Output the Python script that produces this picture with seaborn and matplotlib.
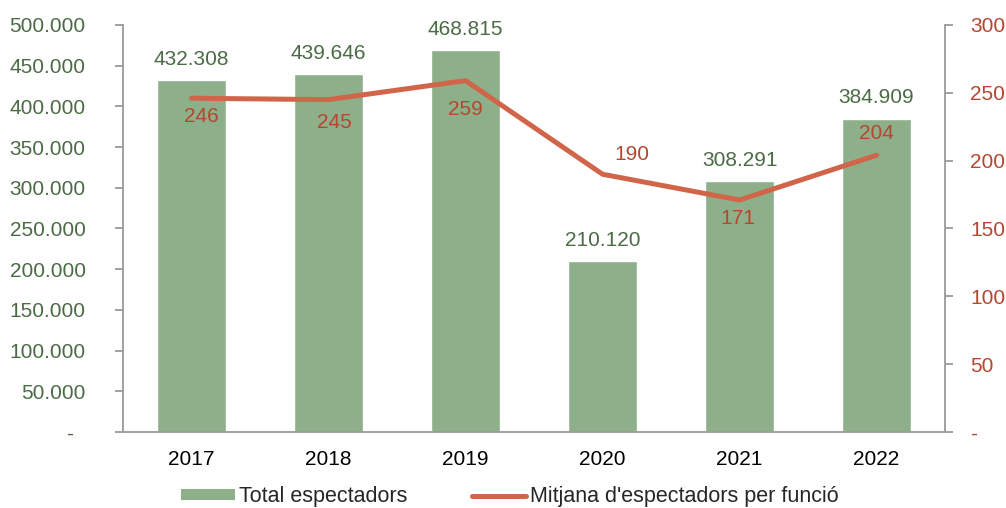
import matplotlib
matplotlib.use("Agg")
import matplotlib.pyplot as plt
import seaborn as sns
import pandas as pd
from matplotlib.patches import Patch
from matplotlib.lines import Line2D

# ─── Data ─────────────────────────────────────────────────────────────────────
years = ["2017", "2018", "2019", "2020", "2021", "2022"]
total_espectadors = [432308, 439646, 468815, 210120, 308291, 384909]
mitjana_funcio = [246, 245, 259, 190, 171, 204]

# label placement for the average labels (offset of label centre, in points)
avg_label_offsets = [(7, -13), (4, -16.5), (0, -21), (21, 14), (-1, -13), (0, 16)]

BAR_COLOR = "#8db08a"
LINE_COLOR = "#d0654a"
GREEN_TXT = "#4b6b45"
RED_TXT = "#b5462f"
SPINE = "#9a9a9a"
FS = 15

sns.set_theme(style="white")
plt.rcParams["font.family"] = ["Liberation Sans", "DejaVu Sans"]

df = pd.DataFrame({"year": years, "total": total_espectadors, "avg": mitjana_funcio})


def dot_thousands(v):
    return f"{int(v):,}".replace(",", ".")


fig = plt.figure(figsize=(10.06, 5.08), dpi=100)
ax = fig.add_axes([0.1223, 0.1496, 0.8171, 0.8012])

sns.barplot(data=df, x="year", y="total", color=BAR_COLOR, width=0.51,
            saturation=1, ax=ax)
ax.set_xlim(-0.5, len(years) - 0.5)
ax.set_ylim(0, 500000)
ax.set_yticks(range(0, 500001, 50000))
ax.set_yticklabels(["-\u2007"] + [dot_thousands(v) for v in range(50000, 500001, 50000)])
ax.set_xlabel("")
ax.set_ylabel("")

for i, v in enumerate(total_espectadors):
    ax.annotate(dot_thousands(v), (i, v), xytext=(0, 15), textcoords="offset points",
                ha="center", va="center", color=GREEN_TXT, fontsize=FS)

# secondary axis: average per show
ax2 = ax.twinx()
sns.lineplot(data=df, x="year", y="avg", color=LINE_COLOR, linewidth=3.6,
             ax=ax2, legend=False)
ax2.set_ylim(0, 300)
ax2.set_yticks(range(0, 301, 50))
ax2.set_yticklabels(["-"] + [str(v) for v in range(50, 301, 50)])
ax2.set_ylabel("")
ax2.set_xlim(-0.5, len(years) - 0.5)

for i, (v, off) in enumerate(zip(mitjana_funcio, avg_label_offsets)):
    ax2.annotate(str(v), (i, v), xytext=off, textcoords="offset points",
                 ha="center", va="center", color=RED_TXT, fontsize=FS)

# ─── Styling (Excel-like) ─────────────────────────────────────────────────────
for a in (ax, ax2):
    for s in a.spines.values():
        s.set_visible(False)
ax.spines["left"].set_visible(True)
ax.spines["bottom"].set_visible(True)
ax2.spines["right"].set_visible(True)
for s in (ax.spines["left"], ax.spines["bottom"], ax2.spines["right"]):
    s.set_color(SPINE)
    s.set_linewidth(1.3)

ax.set_xticks(range(len(years)))
ax.set_xticklabels(years)
ax.set_xticks([i - 0.5 for i in range(len(years) + 1)], minor=True)
ax.tick_params(axis="x", which="major", length=0, pad=13, labelsize=FS,
               colors="black")
ax.tick_params(axis="x", which="minor", length=7, width=1.3, color=SPINE,
               direction="out")
ax.tick_params(axis="y", left=True, length=6, width=1.3, color=SPINE,
               labelcolor=GREEN_TXT, labelsize=FS, pad=21)
ax2.tick_params(axis="y", right=True, length=6, width=1.3, color=SPINE,
                labelcolor=RED_TXT, labelsize=FS, pad=12)

handles = [Patch(facecolor=BAR_COLOR, edgecolor="none", label="Total espectadors"),
           Line2D([0], [0], color=LINE_COLOR, linewidth=3.6,
                  label="Mitjana d'espectadors per funció")]
fig.legend(handles=handles, loc="center", bbox_to_anchor=(0.507, 0.022), ncol=2,
           frameon=False, fontsize=15.5, handlelength=2.5, handleheight=0.45,
           handletextpad=0.2, columnspacing=3.0)

fig.savefig("out.png", dpi=100)
